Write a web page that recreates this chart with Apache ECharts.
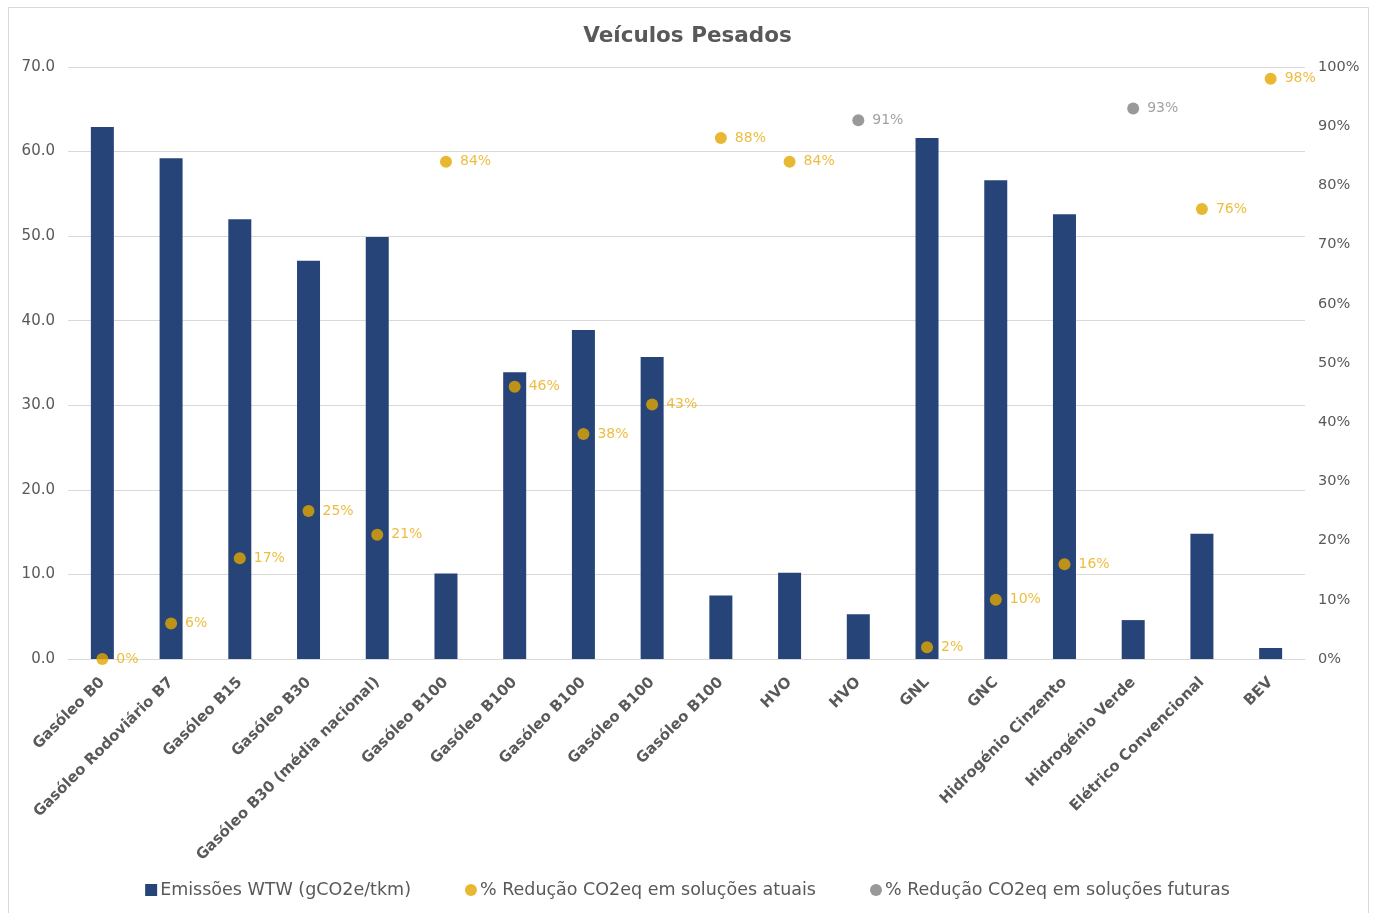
<!DOCTYPE html>
<html>
<head>
<meta charset="utf-8">
<title>Veículos Pesados</title>
<script src="https://cdn.jsdelivr.net/npm/echarts@6/dist/echarts.min.js"></script>
<style>
  html, body { margin: 0; padding: 0; background: #ffffff; }
  #chart { width: 1375px; height: 913px; }
</style>
</head>
<body>
<div id="chart"></div>
<script>
// Fuel / powertrain options
const categories = [
  'Gasóleo B0', 'Gasóleo Rodoviário B7', 'Gasóleo B15', 'Gasóleo B30',
  'Gasóleo B30 (média nacional)', 'Gasóleo B100', 'Gasóleo B100', 'Gasóleo B100',
  'Gasóleo B100', 'Gasóleo B100', 'HVO', 'HVO', 'GNL', 'GNC',
  'Hidrogénio Cinzento', 'Hidrogénio Verde', 'Elétrico Convencional', 'BEV'
];

// Well-to-wheel emissions (gCO2e/tkm)
const emissions = [62.9, 59.2, 52.0, 47.1, 49.9, 10.1, 33.9, 38.9, 35.7, 7.5,
                   10.2, 5.3, 61.6, 56.6, 52.6, 4.6, 14.8, 1.3];

// % CO2eq reduction, current solutions (null = not applicable)
const reductionCurrent = [0, 6, 17, 25, 21, 84, 46, 38, 43, 88,
                          84, null, 2, 10, 16, null, 76, 98];

// % CO2eq reduction, future solutions
const reductionFuture = [null, null, null, null, null, null, null, null, null, null,
                         null, 91, null, null, null, 93, null, null];

const seriesNames = [
  'Emissões WTW (gCO2e/tkm)',
  '% Redução CO2eq em soluções atuais',
  '% Redução CO2eq em soluções futuras'
];

const FONT = '"DejaVu Sans", "Open Sans", sans-serif';
const TEXT = '#595959';
const BLUE = '#264478';
const GOLD = '#E3A600';
const GREY = '#808080';

const chart = echarts.init(document.getElementById('chart'), null, { renderer: 'canvas' });

chart.setOption({
  backgroundColor: '#ffffff',
  animation: false,
  textStyle: { fontFamily: FONT },
  title: {
    text: 'Veículos Pesados',
    left: 'center',
    top: 20,
    textStyle: { fontFamily: FONT, fontSize: 21.5, fontWeight: 'bold', color: TEXT }
  },
  graphic: [{
    type: 'rect',
    shape: { x: 8.5, y: 7.5, width: 1360, height: 910 },
    style: { fill: 'none', stroke: '#d9d9d9', lineWidth: 1 },
    silent: true
  }],
  legend: {
    bottom: 9,
    left: 'center',
    itemGap: 54,
    itemWidth: 12,
    itemHeight: 12,
    textStyle: { fontFamily: FONT, fontSize: 17.5, color: TEXT, padding: [0, 0, 0, -2] },
    data: [
      { name: seriesNames[0], icon: 'rect', itemStyle: { color: BLUE } },
      { name: seriesNames[1], icon: 'circle' },
      { name: seriesNames[2], icon: 'circle' }
    ]
  },
  grid: { left: 68, right: 70, top: 67, bottom: 254, containLabel: false },
  xAxis: {
    type: 'category',
    data: categories,
    axisLine: { lineStyle: { color: '#d9d9d9', width: 1 } },
    axisTick: { show: false },
    axisLabel: {
      interval: 0,
      rotate: 45,
      margin: 21,
      fontFamily: FONT,
      fontSize: 15,
      fontWeight: 'bold',
      color: TEXT
    }
  },
  yAxis: [{
    type: 'value',
    min: 0,
    max: 70,
    interval: 10,
    axisLine: { show: false },
    axisTick: { show: false },
    splitLine: { lineStyle: { color: '#d9d9d9', width: 1 } },
    axisLabel: {
      margin: 13,
      fontFamily: FONT,
      fontSize: 15,
      color: TEXT,
      formatter: v => v.toFixed(1)
    }
  }, {
    type: 'value',
    min: 0,
    max: 100,
    interval: 10,
    position: 'right',
    axisLine: { show: false },
    axisTick: { show: false },
    splitLine: { show: false },
    axisLabel: {
      margin: 13,
      fontFamily: FONT,
      fontSize: 14.5,
      color: TEXT,
      formatter: v => v + '%'
    }
  }],
  series: [{
    name: seriesNames[0],
    type: 'bar',
    yAxisIndex: 0,
    data: emissions,
    barWidth: 23,
    itemStyle: { color: BLUE }
  }, {
    name: seriesNames[1],
    type: 'scatter',
    yAxisIndex: 1,
    data: reductionCurrent,
    symbol: 'circle',
    symbolSize: 12,
    itemStyle: { color: GOLD },
    label: {
      show: true,
      position: 'right',
      distance: 8,
      fontFamily: FONT,
      fontSize: 14,
      color: '#E8AC10',
      formatter: p => p.value + '%'
    }
  }, {
    name: seriesNames[2],
    type: 'scatter',
    yAxisIndex: 1,
    data: reductionFuture,
    symbol: 'circle',
    symbolSize: 12,
    itemStyle: { color: GREY },
    label: {
      show: true,
      position: 'right',
      distance: 8,
      fontFamily: FONT,
      fontSize: 14,
      color: '#8a8a8a',
      formatter: p => p.value + '%'
    }
  }]
});
</script>
</body>
</html>
